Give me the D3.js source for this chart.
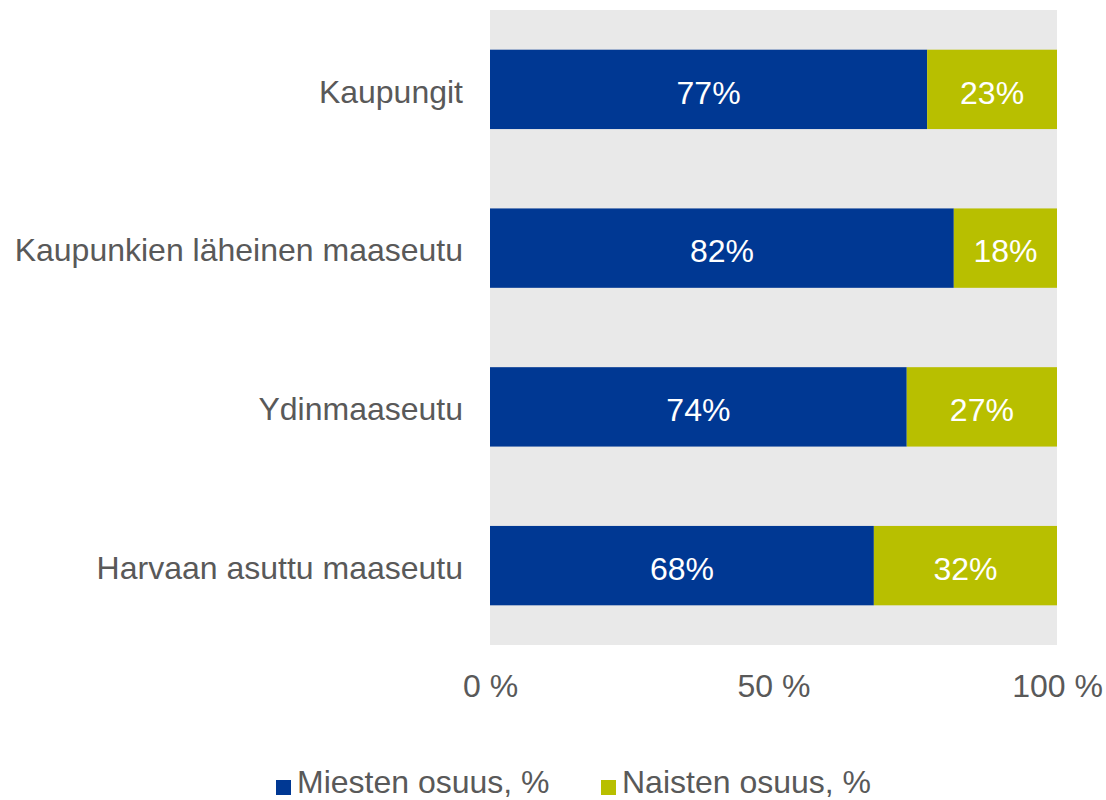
<!DOCTYPE html>
<html>
<head>
<meta charset="utf-8">
<script src="https://cdn.jsdelivr.net/npm/d3@7"></script>
<style>
  body { margin: 0; background: #fff; }
  svg { font-family: "Liberation Sans", Arial, sans-serif; }
</style>
</head>
<body>
<svg class="chart" width="1106" height="800"></svg>
<script>
const categories = ["Kaupungit", "Kaupunkien läheinen maaseutu", "Ydinmaaseutu", "Harvaan asuttu maaseutu"];
const seriesNames = ["Miesten osuus, %", "Naisten osuus, %"];
const men = [77.1, 81.8, 73.5, 67.7];
const women = [22.9, 18.2, 26.5, 32.3];
const ticks = [0, 50, 100];

const colScale = d3.scaleOrdinal()
                  .domain(seriesNames)
                  .range(['#003893', '#b8bf00']);

function drawBars() {
  const svg = d3.select('svg.chart');
  const plot = {left: 490, right: 1057, top: 10, bottom: 645};
  const textCol = '#595959';
  const fs = '32px';

  const x = d3.scaleLinear()
              .domain([0, 100])
              .range([plot.left, plot.right]);

  const y = d3.scaleBand()
              .domain(categories)
              .range([plot.top, plot.bottom])
              .paddingInner(0.5)
              .paddingOuter(0.25);

  svg.append('rect')
    .attr('x', plot.left)
    .attr('y', plot.top)
    .attr('width', plot.right - plot.left)
    .attr('height', plot.bottom - plot.top)
    .style('fill', '#e9e9e9');

  const rows = categories.map((c, i) => ({cat: c, vals: [men[i], women[i]]}));
  const stack = d3.stack().keys([0, 1]).value((d, k) => d.vals[k]);
  const layers = stack(rows);

  const g = svg.selectAll('g.layer')
    .data(layers)
    .enter()
    .append('g')
    .attr('class', 'layer')
    .style('fill', (d, i) => colScale(seriesNames[i]));

  g.selectAll('rect')
    .data(d => d)
    .enter()
    .append('rect')
    .attr('x', d => x(d[0]))
    .attr('y', d => y(d.data.cat))
    .attr('width', d => x(d[1]) - x(d[0]))
    .attr('height', y.bandwidth());

  g.selectAll('text')
    .data(d => d)
    .enter()
    .append('text')
    .attr('x', d => (x(d[0]) + x(d[1])) / 2)
    .attr('y', d => y(d.data.cat) + y.bandwidth() / 2 + 3)
    .attr('dy', '0.35em')
    .style('fill', '#fff')
    .style('font-size', fs)
    .style('text-anchor', 'middle')
    .text(d => Math.round(d[1] - d[0]) + '%');

  // category labels
  svg.selectAll('text.cat')
    .data(categories)
    .enter()
    .append('text')
    .attr('class', 'cat')
    .attr('x', 463)
    .attr('y', d => y(d) + y.bandwidth() / 2 + 2)
    .attr('dy', '0.35em')
    .style('fill', textCol)
    .style('font-size', fs)
    .style('text-anchor', 'end')
    .text(d => d);

  // x axis, no line
  const axis = svg.append('g')
    .attr('transform', `translate(0, ${plot.bottom})`)
    .call(d3.axisBottom(x).tickValues(ticks).tickSize(0).tickPadding(29).tickFormat(d => d + ' %'));
  axis.select('.domain').remove();
  axis.selectAll('text')
    .style('fill', textCol)
    .style('font-size', fs)
    .style('font-family', '"Liberation Sans", Arial, sans-serif');

  // legend
  const legX = [276, 601];
  const leg = svg.selectAll('g.leg')
    .data(seriesNames)
    .enter()
    .append('g')
    .attr('class', 'leg')
    .attr('transform', (d, i) => `translate(${legX[i]}, 782)`);
  leg.append('rect')
    .attr('x', 0)
    .attr('y', -2)
    .attr('width', 15)
    .attr('height', 15)
    .style('fill', d => colScale(d));
  leg.append('text')
    .attr('x', 21)
    .attr('y', 0)
    .attr('dy', '0.35em')
    .style('fill', textCol)
    .style('font-size', fs)
    .text(d => d);
}

drawBars();
</script>
</body>
</html>
